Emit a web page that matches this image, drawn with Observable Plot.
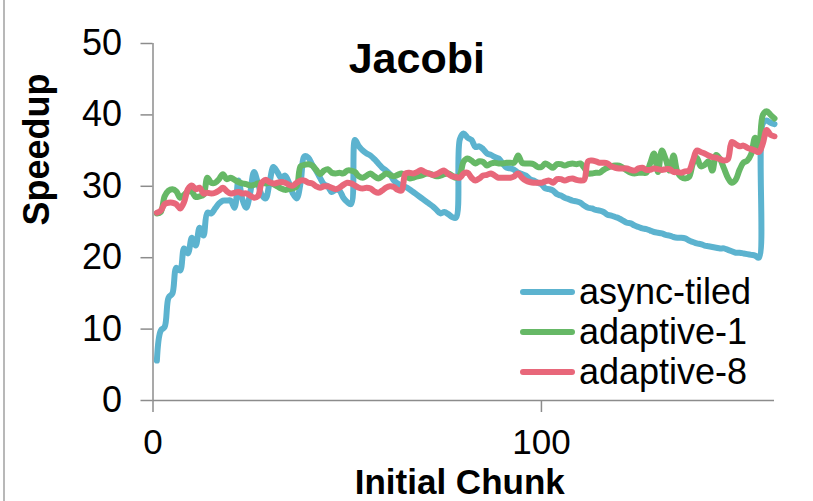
<!DOCTYPE html>
<html><head><meta charset="utf-8">
<script src="https://cdn.jsdelivr.net/npm/d3@7"></script>
<script src="https://cdn.jsdelivr.net/npm/@observablehq/plot@0.6"></script>
<style>
body{margin:0;background:#fff;}
#wrap{position:relative;width:813px;height:501px;overflow:hidden;background:#fff;font-family:"Liberation Sans",Arial,sans-serif;}
#border{position:absolute;left:3px;top:0;width:0;height:501px;border-left:2px solid #b8b8b8;}
#legend{position:absolute;left:520px;top:272px;font-size:36px;line-height:40px;color:#000;}
.row{display:flex;align-items:center;height:40px;white-space:nowrap;}
.sw{width:55px;height:6px;border-radius:3px;margin-right:4px;}
svg{display:block;}
</style></head>
<body><div id="wrap"><div id="border"></div></div>
<script>
const seriesNames = ["async-tiled", "adaptive-1", "adaptive-8"];
const colors = ["#5cb3cf", "#66b866", "#e8677a"];
const chunks = d3.range(1, 161);
const xTicks = [0, 100];
const yTicks = [0, 10, 20, 30, 40, 50];

const asyncTiled = [
  5.6, 9.8, 10.3, 14.4, 15.0, 18.6, 18.2, 21.3, 20.6, 22.8,
  21.7, 24.2, 23.1, 26.3, 26.2, 26.9, 27.6, 28.0, 28.0, 28.0,
  27.0, 30.8, 28.2, 27.0, 29.0, 32.0, 30.5, 28.8, 28.3, 30.5,
  32.7, 32.0, 31.2, 31.5, 30.5, 29.0, 28.3, 30.5, 34.2, 34.0,
  33.0, 32.2, 31.2, 30.3, 30.0, 29.2, 29.5, 29.4, 28.4, 27.8,
  27.5, 36.5, 35.6, 35.0, 34.6, 34.3, 33.8, 33.2, 32.6, 32.2,
  31.7, 30.8, 30.4, 30.1, 29.9, 29.6, 29.2, 28.8, 28.4, 28.0,
  27.6, 27.2, 26.7, 26.2, 26.4, 26.1, 25.7, 25.6, 36.6, 37.4,
  36.8, 36.5, 35.5, 35.6, 35.2, 34.6, 34.4, 34.1, 33.9, 33.2,
  32.6, 32.5, 32.3, 31.9, 31.7, 31.5, 31.0, 30.8, 30.5, 30.3,
  29.7, 29.6, 29.4, 28.9, 28.7, 28.4, 28.2, 28.0, 27.9, 27.7,
  27.3, 27.0, 26.9, 26.7, 26.6, 26.4, 26.0, 25.9, 25.7, 25.5,
  25.2, 24.9, 24.8, 24.5, 24.3, 24.1, 24.0, 23.8, 23.6, 23.5,
  23.4, 23.2, 23.1, 22.9, 22.8, 22.8, 22.7, 22.4, 22.2, 22.0,
  21.9, 21.7, 21.6, 21.5, 21.4, 21.3, 21.3, 21.1, 20.9, 20.7,
  20.7, 20.6, 20.5, 20.4, 20.3, 20.0, 38.8, 39.2, 38.9, 38.7
];
const adaptive1 = [
  26.2, 26.4, 28.6, 29.4, 29.6, 29.3, 28.4, 28.8, 29.3, 29.2,
  28.5, 28.6, 28.8, 31.2, 30.5, 30.5, 31.0, 31.7, 31.0, 31.2,
  30.9, 30.6, 30.4, 30.3, 30.1, 30.2, 30.4, 30.5, 30.4, 30.5,
  30.3, 30.0, 29.7, 29.5, 29.6, 29.7, 30.0, 32.8, 33.0, 33.1,
  32.9, 32.3, 31.7, 32.2, 32.4, 31.9, 31.8, 31.9, 31.8, 32.2,
  32.2, 32.0, 31.4, 31.2, 31.5, 31.8, 31.4, 31.1, 31.4, 31.8,
  31.6, 31.4, 31.6, 31.8, 31.5, 31.1, 31.2, 31.4, 31.5, 31.7,
  31.8, 31.6, 31.4, 31.5, 31.7, 31.8, 31.5, 31.2, 31.6, 33.5,
  33.9, 33.6, 33.2, 33.5, 33.4, 32.9, 33.2, 33.3, 33.2, 33.2,
  33.3, 33.3, 33.3, 34.3, 33.3, 33.2, 33.2, 33.1, 32.7, 32.7,
  33.2, 32.9, 32.6, 33.1, 33.1, 32.9, 33.1, 33.2, 33.1, 33.2,
  32.6, 31.8, 31.8, 31.9, 31.9, 32.3, 32.6, 32.8, 32.9, 32.9,
  32.6, 32.2, 31.9, 31.8, 31.9, 31.9, 31.9, 33.2, 34.6, 32.0,
  35.0, 33.8, 32.2, 34.3, 32.0, 31.3, 31.1, 31.3, 33.2, 34.0,
  32.8, 33.0, 33.5, 32.2, 34.4, 33.8, 32.5, 31.2, 30.5, 30.9,
  32.3, 33.3, 33.6, 34.5, 36.8, 35.5, 40.0, 40.5, 40.0, 39.5
];
const adaptive8 = [
  26.3, 26.6, 27.5, 27.7, 27.7, 27.5, 26.9, 27.8, 29.6, 30.1,
  29.6, 29.8, 29.0, 29.1, 29.0, 29.1, 29.4, 29.8, 29.3, 29.0,
  29.1, 29.2, 29.0, 29.0, 28.7, 28.4, 28.6, 30.5, 30.9, 30.6,
  30.4, 30.5, 30.6, 30.5, 30.2, 30.1, 30.5, 30.8, 30.8, 30.5,
  30.4, 30.0, 29.8, 30.0, 30.0, 29.8, 29.6, 29.8, 30.2, 30.5,
  30.4, 30.1, 29.8, 29.7, 29.8, 29.7, 29.3, 29.1, 29.4, 29.8,
  30.0, 29.9, 29.5, 29.4, 31.8, 31.9, 31.8, 32.0, 32.3, 32.0,
  31.8, 31.6, 31.7, 32.0, 32.2, 31.7, 31.4, 31.3, 31.2, 31.8,
  31.9, 31.2, 30.8, 31.1, 31.5, 31.6, 31.8, 31.5, 31.2, 31.2,
  31.2, 31.2, 31.4, 31.8, 31.2, 30.8, 30.6, 30.5, 30.5, 30.5,
  30.7, 30.8, 30.5, 31.0, 31.0, 30.8, 31.0, 31.1, 30.9, 30.8,
  30.9, 33.5, 33.6, 33.5, 33.3, 33.3, 33.2, 32.8, 32.6, 32.5,
  32.5, 32.5, 32.3, 32.2, 32.5, 32.6, 32.3, 32.3, 32.5, 32.4,
  32.3, 32.4, 32.4, 32.0, 32.0, 31.9, 32.1, 32.2, 33.6, 35.0,
  34.8, 34.6, 34.3, 34.1, 34.0, 33.8, 33.6, 33.8, 36.2, 35.9,
  35.6, 35.7, 35.4, 35.2, 35.0, 34.8, 36.0, 37.9, 37.2, 37.0
];

const allSeries = [asyncTiled, adaptive1, adaptive8];
const tables = allSeries.map((vals, s) =>
  vals.map((v, i) => ({series: seriesNames[s], chunk: chunks[i], speedup: v})));

const axisGray = "#8c8c8c";
const font = "Liberation Sans, Arial, sans-serif";

const chart = Plot.plot({
  width: 813,
  height: 501,
  marginLeft: 152.5,
  marginRight: 39,
  marginTop: 43,
  marginBottom: 101,
  style: {fontFamily: font, background: "white", color: "black"},
  x: {domain: [0, 160]},
  y: {domain: [0, 50]},
  marks: [
    Plot.axisY({ticks: yTicks, tickSize: 12, tickPadding: 19, fontSize: 36, stroke: axisGray, strokeWidth: 1.5, fill: "black", label: null, tickFormat: d => String(d)}),
    Plot.axisX({ticks: xTicks, tickSize: 12, tickPadding: 17, fontSize: 35, stroke: axisGray, strokeWidth: 1.5, fill: "black", label: null, tickFormat: d => String(d)}),
    Plot.ruleX([0], {stroke: axisGray, strokeWidth: 1.5}),
    Plot.ruleY([0], {stroke: axisGray, strokeWidth: 1.5}),
    ...tables.map((t, s) => Plot.line(t, {x: "chunk", y: "speedup", stroke: colors[s], strokeWidth: 6, curve: "catmull-rom"})),
    Plot.text(["Jacobi"], {text: d => d, frameAnchor: "top", dx: -47, dy: 29, lineAnchor: "bottom", fontSize: 43, fontWeight: "bold", fill: "black"}),
    Plot.text(["Speedup"], {text: d => d, frameAnchor: "left", rotate: -90, dx: -116, dy: 3.5, fontSize: 36, fontWeight: "bold", fill: "black"}),
    Plot.text(["Initial Chunk"], {text: d => d, frameAnchor: "bottom", dx: -4, dy: 93.5, lineAnchor: "bottom", fontSize: 35, fontWeight: "bold", fill: "black"})
  ]
});

const wrap = document.getElementById("wrap");
wrap.insertBefore(chart, wrap.firstChild);

const legend = document.createElement("div");
legend.id = "legend";
seriesNames.forEach((name, i) => {
  const row = document.createElement("div");
  row.className = "row";
  const sw = document.createElement("span");
  sw.className = "sw";
  sw.style.background = colors[i];
  const label = document.createElement("span");
  label.textContent = name;
  row.appendChild(sw);
  row.appendChild(label);
  legend.appendChild(row);
});
wrap.appendChild(legend);
</script>
</body></html>
